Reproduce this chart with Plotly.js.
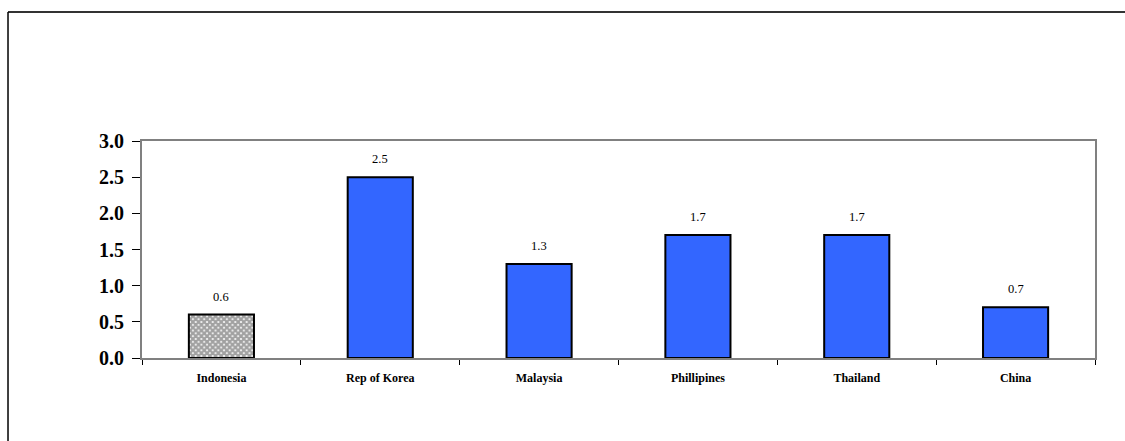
<!DOCTYPE html>
<html>
<head>
<meta charset="utf-8">
<script src="https://cdn.plot.ly/plotly-3.0.1.min.js"></script>
<style>
  html, body { margin: 0; padding: 0; background: #ffffff; }
  #chart { width: 1125px; height: 441px; }
</style>
</head>
<body>
<div id="chart"></div>
<script>
// Countries and their values
const countries = ['Indonesia', 'Rep of Korea', 'Malaysia', 'Phillipines', 'Thailand', 'China'];
const values = [0.6, 2.5, 1.3, 1.7, 1.7, 0.7];
const valueLabels = ['0.6', '2.5', '1.3', '1.7', '1.7', '0.7'];
const yTicks = [0, 0.5, 1.0, 1.5, 2.0, 2.5, 3.0];
const yTickText = ['0.0', '0.5', '1.0', '1.5', '2.0', '2.5', '3.0'];

// Indonesia is drawn with a checkered fill, the rest solid blue
const fills = countries.map((c, i) => i === 0 ? '#ffffff' : '#3366ff');
const patterns = countries.map((c, i) => i === 0 ? 'x' : '');

const serif = 'Liberation Serif, Times New Roman, serif';

const trace = {
  type: 'bar',
  x: countries,
  y: values,
  marker: {
    color: fills,
    line: { color: '#000000', width: 2 },
    pattern: {
      shape: patterns,
      size: 4,
      solidity: 0.8,
      fgcolor: '#222222',
      bgcolor: '#ffffff',
      fillmode: 'overlay'
    }
  },
  hoverinfo: 'none'
};

const labelAnnotations = countries.map((c, i) => ({
  x: c,
  y: values[i],
  xref: 'x',
  yref: 'y',
  text: valueLabels[i],
  showarrow: false,
  yanchor: 'bottom',
  yshift: 9,
  font: { family: serif, size: 12.5, color: '#000000' }
}));

const layout = {
  width: 1125,
  height: 441,
  margin: { l: 142, r: 30, t: 141, b: 83 },
  paper_bgcolor: '#ffffff',
  plot_bgcolor: '#ffffff',
  showlegend: false,
  bargap: 0.59,
  xaxis: {
    type: 'category',
    tickson: 'boundaries',
    ticks: 'outside',
    ticklen: 5,
    tickcolor: '#000000',
    tickwidth: 1,
    showline: true,
    linecolor: '#808080',
    linewidth: 2,
    mirror: true,
    showgrid: false,
    ticklabelstandoff: 8,
    tickfont: { family: serif, size: 12, color: '#000000', weight: 'bold' }
  },
  yaxis: {
    range: [0, 3.0],
    tickvals: yTicks,
    ticktext: yTickText,
    ticks: 'outside',
    ticklen: 8,
    tickcolor: '#000000',
    tickwidth: 1,
    showline: true,
    linecolor: '#808080',
    linewidth: 2,
    mirror: true,
    showgrid: false,
    zeroline: false,
    ticklabelstandoff: 4,
    tickfont: { family: serif, size: 20, color: '#000000', weight: 'bold' }
  },
  annotations: labelAnnotations,
  shapes: [
    // outer frame around the figure
    {
      type: 'line', xref: 'paper', yref: 'paper',
      x0: -0.1406, x1: 1.0315, y0: 1.5945, y1: 1.5945,
      line: { color: '#333333', width: 2 }
    },
    {
      type: 'line', xref: 'paper', yref: 'paper',
      x0: -0.1406, x1: -0.1406, y0: 1.5945, y1: -0.3825,
      line: { color: '#000000', width: 1.5 }
    }
  ]
};

Plotly.newPlot('chart', [trace], layout, { staticPlot: true, displayModeBar: false });
</script>
</body>
</html>
